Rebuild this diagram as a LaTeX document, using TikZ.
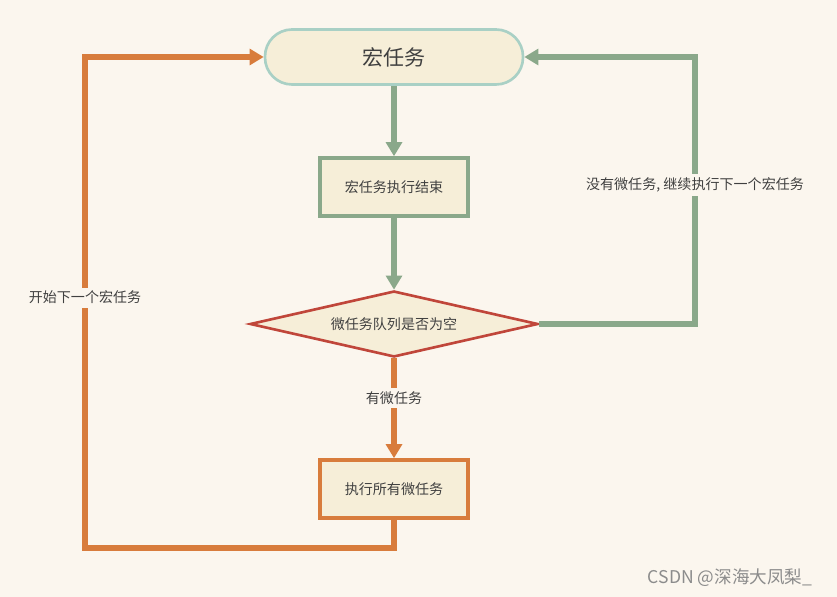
\documentclass[tikz,border=0pt]{standalone}
\usepackage{fontspec}
\setmainfont{Noto Sans CJK SC}
\usetikzlibrary{shapes.geometric,arrows.meta}
\definecolor{bg}{HTML}{FBF6EE}
\definecolor{fillb}{HTML}{F6EED8}
\definecolor{teal}{HTML}{A9D0C5}
\definecolor{grn}{HTML}{8AA88A}
\definecolor{redd}{HTML}{C0463A}
\definecolor{org}{HTML}{D87C3C}
\tikzset{
 box/.style={draw=grn,line width=2pt,fill=fillb,minimum width=148*0.02cm,minimum height=58*0.02cm,font=\footnotesize,text=black!75},
 garrow/.style={draw=grn,line width=3pt,-{Triangle[length=8pt,width=9pt]}},
 oarrow/.style={draw=org,line width=3pt,-{Triangle[length=8pt,width=9pt]}},
 lbl/.style={fill=bg,font=\footnotesize,text=black!75,inner sep=2pt}
}
\begin{document}
\begin{tikzpicture}[x=0.02cm,y=-0.02cm]
\fill[bg] (0,0) rectangle (837,597);
\useasboundingbox (0,0) rectangle (837,597);
\node[draw=teal,line width=1.5pt,fill=fillb,rounded corners=27*0.02cm,minimum width=258*0.02cm,minimum height=55*0.02cm,font=\large,text=black!75] (macro) at (394,57) {宏任务};
\node[box] (end) at (394,187) {宏任务执行结束};
\node[diamond,aspect=4.36,draw=redd,line width=1.5pt,fill=fillb,inner sep=0pt,minimum width=288*0.02cm,minimum height=66*0.02cm,font=\footnotesize,text=black!75] (dia) at (394,324) {微任务队列是否为空};
\node[box,draw=org] (exec) at (394,489) {执行所有微任务};
\draw[garrow] (macro) -- (end);
\draw[garrow] (end) -- (dia);
\draw[oarrow] (dia) -- node[lbl,pos=0.4]{有微任务} (exec);
\coordinate (r1) at (695,324);
\coordinate (r2) at (695,57);
\draw[garrow] (dia.east) -- (r1) -- node[lbl,pos=0.52]{没有微任务, 继续执行下一个宏任务} (r2) -- (macro.east);
\coordinate (l0) at (394,548);
\coordinate (l1) at (85,548);
\coordinate (l2) at (85,57);
\draw[oarrow] (exec.south) -- (l0) -- (l1) -- node[lbl,pos=0.51]{开始下一个宏任务} (l2) -- (macro.west);
\node[font=\normalsize,text=black!45] (wm) at (730,578) {CSDN @深海大凤梨\_};
\end{tikzpicture}
\end{document}
